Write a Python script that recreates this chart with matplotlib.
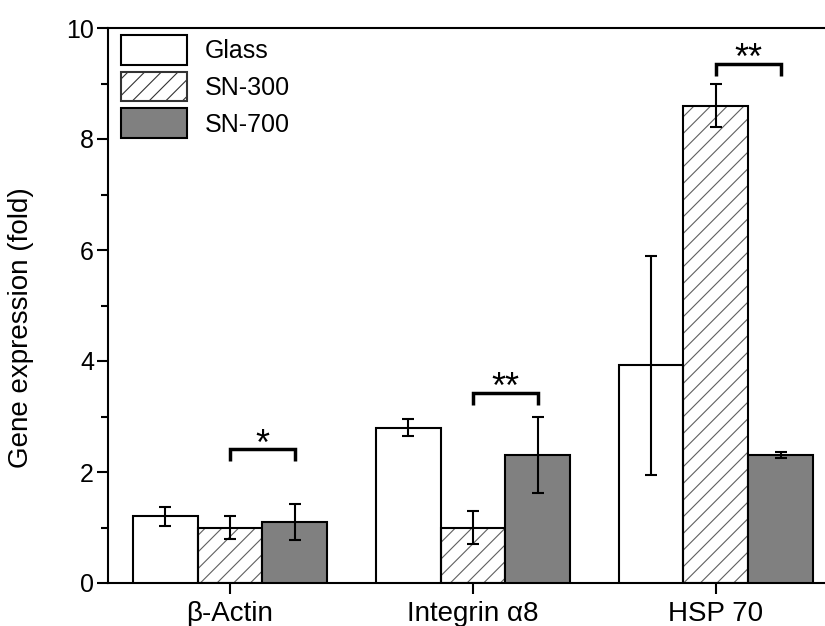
import matplotlib
matplotlib.use("Agg")
import matplotlib.pyplot as plt
import numpy as np
from matplotlib.ticker import MultipleLocator
from matplotlib.patches import Patch

plt.rcParams['font.family'] = ['Liberation Sans', 'DejaVu Sans']
plt.rcParams['hatch.linewidth'] = 0.8

categories = ["β-Actin", "Integrin α8", "HSP 70"]
series_names = ["Glass", "SN-300", "SN-700"]
glass = [1.2, 2.8, 3.92]
glass_err = [0.17, 0.15, 1.97]
sn300 = [1.0, 1.0, 8.6]
sn300_err = [0.2, 0.3, 0.39]
sn700 = [1.1, 2.31, 2.31]
sn700_err = [0.32, 0.68, 0.05]
# significance brackets: (category index, series i, series j, y level, label)
sig = [(0, 1, 2, 2.41, "*"), (1, 1, 2, 3.43, "**"), (2, 1, 2, 9.35, "**")]

fig = plt.figure(figsize=(8.25, 6.26), dpi=100)
ax = fig.add_axes([108/825, 43/626, 1 - 108/825, (583-28)/626])

x = np.arange(len(categories))
w = 0.267
offsets = [-w, 0, w]
vals = [glass, sn300, sn700]
errs = [glass_err, sn300_err, sn700_err]
faces = ["white", "white", "#808080"]
hatches = [None, "//", None]

for k in range(3):
    xs = x + offsets[k]
    if hatches[k]:
        ax.bar(xs, vals[k], w, color="white", edgecolor="#606060", hatch=hatches[k], linewidth=0, zorder=2)
        ax.bar(xs, vals[k], w, color="none", edgecolor="black", linewidth=1.5, zorder=3)
    else:
        ax.bar(xs, vals[k], w, color=faces[k], edgecolor="black", linewidth=1.5, zorder=3)
    ax.errorbar(xs, vals[k], yerr=errs[k], fmt="none", ecolor="black", elinewidth=1.5,
                capsize=4.5, capthick=1.5, zorder=4)

leg_handles = [
    Patch(facecolor="white", edgecolor="black", linewidth=1.5),
    Patch(facecolor="white", edgecolor="#333333", hatch="//", linewidth=1.5),
    Patch(facecolor="#808080", edgecolor="black", linewidth=1.5),
]
leg = ax.legend(leg_handles, series_names, loc="upper left", frameon=False, fontsize=18,
                handlelength=2.65, handleheight=1.45, handletextpad=0.7, labelspacing=0.28,
                borderaxespad=0.0, borderpad=0.0, bbox_to_anchor=(13/717, 1 - 7/555))

for ci, a, b, yl, lab in sig:
    x1 = x[ci] + offsets[a]
    x2 = x[ci] + offsets[b]
    ax.plot([x1, x1, x2, x2], [yl - 0.22, yl, yl, yl - 0.22], color="black", lw=2.5,
            solid_capstyle="butt", solid_joinstyle="miter", zorder=5)
    ax.text((x1 + x2) / 2, yl - 0.24, lab, ha="center", va="bottom", fontsize=26,
            zorder=5)

ax.set_xlim(-0.502, 2.449)
ax.set_ylim(0, 10)
ax.set_xticks(x)
ax.set_xticklabels(categories, fontsize=20)
ax.yaxis.set_major_locator(MultipleLocator(2))
ax.yaxis.set_minor_locator(MultipleLocator(1))
ax.tick_params(axis="y", labelsize=18, direction="out", length=8, width=1.5, pad=2)
ax.tick_params(axis="y", which="minor", direction="out", length=5, width=1.5)
ax.tick_params(axis="x", direction="out", length=8, width=1.5, pad=5)
ax.set_ylabel("Gene expression (fold)", fontsize=20)
ax.yaxis.set_label_coords(-0.103, 0.46)
for s in ["left", "top", "bottom"]:
    ax.spines[s].set_linewidth(1.5)
ax.spines["right"].set_visible(False)

fig.savefig("out.png", dpi=100)
